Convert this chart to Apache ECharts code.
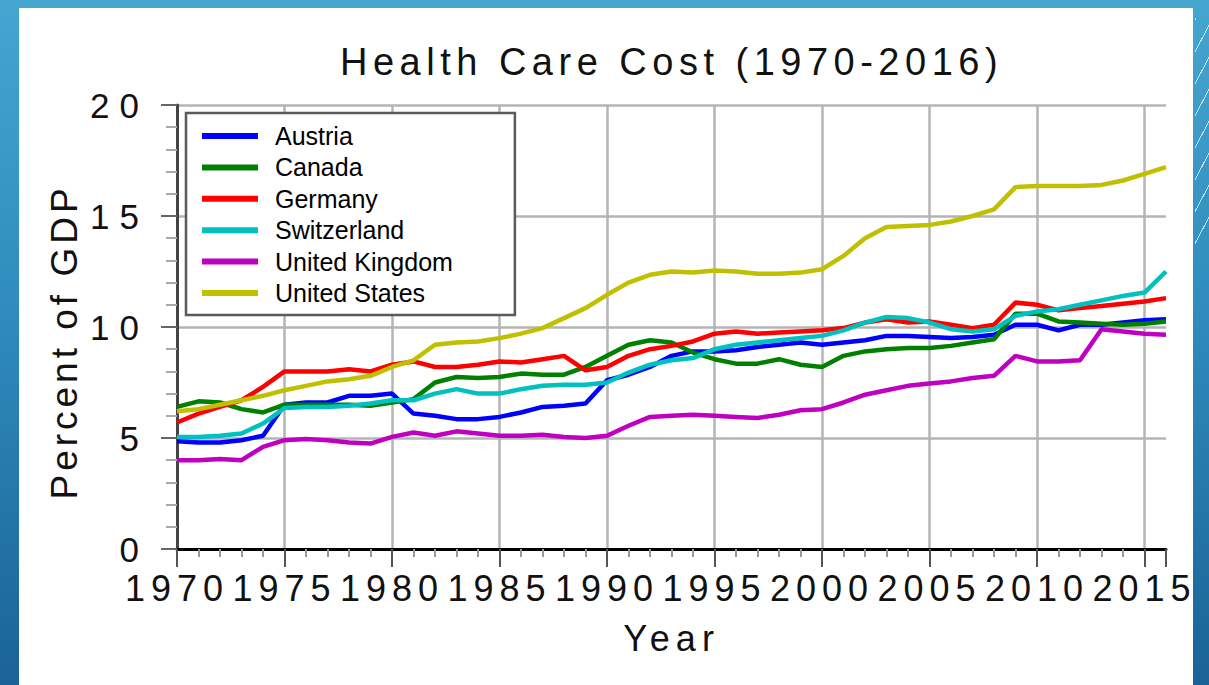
<!DOCTYPE html>
<html>
<head>
<meta charset="utf-8">
<title>Health Care Cost (1970-2016)</title>
<script src="https://cdn.jsdelivr.net/npm/echarts@6/dist/echarts.min.js"></script>
<style>
  html, body { margin: 0; padding: 0; }
  body {
    width: 1209px; height: 685px; overflow: hidden; position: relative;
    background: linear-gradient(180deg, #45a6cf 0%, #2f8cbd 45%, #1a6396 100%);
  }
  #panel { position: absolute; left: 19px; top: 8px; width: 1174px; height: 677px; background: #fff; }
  #deco {
    position: absolute; left: 1195px; top: 18px; width: 14px; height: 230px;
    background: repeating-linear-gradient(-62deg, transparent 0, transparent 14px,
      rgba(255,255,255,0.7) 14px, rgba(255,255,255,0.7) 15px);
  }
  #chart { position: absolute; left: 0; top: 0; width: 1209px; height: 685px; }
  /* the source picture has wide letter spacing on every label */
  #chart text[style*="38px"] { letter-spacing: 5.5px; }
  #chart text[style*="37px"] { letter-spacing: 4px; }
  #chart text[style*="36px"] { letter-spacing: 6px; }
  #chart text[style*="35px"] { letter-spacing: 10px; }
</style>
</head>
<body>
<div id="panel"></div>
<div id="deco"></div>
<div id="chart"></div>
<script>
// health expenditure, percent of GDP
var years = [1970, 1971, 1972, 1973, 1974, 1975, 1976, 1977, 1978, 1979,
  1980, 1981, 1982, 1983, 1984, 1985, 1986, 1987, 1988, 1989,
  1990, 1991, 1992, 1993, 1994, 1995, 1996, 1997, 1998, 1999,
  2000, 2001, 2002, 2003, 2004, 2005, 2006, 2007, 2008, 2009,
  2010, 2011, 2012, 2013, 2014, 2015, 2016];

var austria = [4.85, 4.8, 4.8, 4.9, 5.1, 6.5, 6.6, 6.6, 6.9, 6.9,
  7.0, 6.1, 6.0, 5.85, 5.85, 5.95, 6.15, 6.4, 6.45, 6.55,
  7.6, 7.85, 8.2, 8.7, 8.9, 8.9, 8.95, 9.1, 9.2, 9.3,
  9.2, 9.3, 9.4, 9.6, 9.6, 9.55, 9.5, 9.55, 9.65, 10.1,
  10.1, 9.85, 10.1, 10.1, 10.2, 10.3, 10.35];

var canada = [6.4, 6.65, 6.6, 6.3, 6.15, 6.5, 6.5, 6.5, 6.5, 6.45,
  6.6, 6.75, 7.5, 7.75, 7.7, 7.75, 7.9, 7.85, 7.85, 8.2,
  8.7, 9.2, 9.4, 9.3, 8.85, 8.55, 8.35, 8.35, 8.55, 8.3,
  8.2, 8.7, 8.9, 9.0, 9.05, 9.05, 9.15, 9.3, 9.45, 10.6,
  10.6, 10.25, 10.2, 10.15, 10.1, 10.15, 10.25];

var germany = [5.7, 6.1, 6.4, 6.7, 7.3, 8.0, 8.0, 8.0, 8.1, 8.0,
  8.3, 8.45, 8.2, 8.2, 8.3, 8.45, 8.4, 8.55, 8.7, 8.05,
  8.2, 8.7, 9.0, 9.15, 9.35, 9.7, 9.8, 9.7, 9.75, 9.8,
  9.85, 9.95, 10.2, 10.35, 10.2, 10.25, 10.1, 9.95, 10.1, 11.1,
  11.0, 10.75, 10.85, 10.95, 11.05, 11.15, 11.3];

var switzerland = [5.05, 5.05, 5.1, 5.2, 5.65, 6.35, 6.4, 6.4, 6.45, 6.55,
  6.7, 6.7, 7.0, 7.2, 7.0, 7.0, 7.2, 7.35, 7.4, 7.4,
  7.5, 7.95, 8.3, 8.5, 8.6, 9.0, 9.2, 9.3, 9.4, 9.5,
  9.6, 9.85, 10.2, 10.45, 10.4, 10.2, 9.9, 9.8, 9.9, 10.5,
  10.7, 10.8, 11.0, 11.2, 11.4, 11.55, 12.5];

var uk = [4.0, 4.0, 4.05, 4.0, 4.6, 4.9, 4.95, 4.9, 4.8, 4.75,
  5.05, 5.25, 5.1, 5.3, 5.2, 5.1, 5.1, 5.15, 5.05, 5.0,
  5.1, 5.55, 5.95, 6.0, 6.05, 6.0, 5.95, 5.9, 6.05, 6.25,
  6.3, 6.6, 6.95, 7.15, 7.35, 7.45, 7.55, 7.7, 7.8, 8.7,
  8.45, 8.45, 8.5, 9.9, 9.8, 9.7, 9.65];

var us = [6.2, 6.3, 6.5, 6.7, 6.9, 7.15, 7.35, 7.55, 7.65, 7.8,
  8.2, 8.5, 9.2, 9.3, 9.35, 9.5, 9.7, 9.95, 10.4, 10.85,
  11.45, 12.0, 12.35, 12.5, 12.45, 12.55, 12.5, 12.4, 12.4, 12.45,
  12.6, 13.2, 14.0, 14.5, 14.55, 14.6, 14.75, 15.0, 15.3, 16.3,
  16.35, 16.35, 16.35, 16.4, 16.6, 16.9, 17.2];

var countries = ['Austria', 'Canada', 'Germany', 'Switzerland', 'United Kingdom', 'United States'];
var colorList = ['#0000ff', '#008000', '#ff0000', '#00c0c0', '#c000c0', '#c0c000'];
var values = [austria, canada, germany, switzerland, uk, us];

var font = 'Liberation Sans, Arial, sans-serif';

var chart = echarts.init(document.getElementById('chart'), null, { renderer: 'svg' });

var seriesArr = [];
countries.forEach(function (name, i) {
  seriesArr.push({
    name: name,
    type: 'line',
    showSymbol: false,
    data: years.map(function (y, k) { return [y, values[i][k]]; }),
    lineStyle: { color: colorList[i], width: 4.5 },
    itemStyle: { color: colorList[i] },
    emphasis: { disabled: true }
  });
});

var option = {
  animation: false,
  backgroundColor: 'transparent',
  title: {
    text: 'Health Care Cost (1970-2016)',
    left: 340,
    top: 43,
    padding: 0,
    textStyle: { fontFamily: font, fontSize: 38, fontWeight: 'normal', color: '#111' }
  },
  legend: {
    orient: 'vertical',
    left: 186,
    top: 113,
    padding: [10.5, 62, 9.5, 16],
    itemGap: 6.4,
    itemWidth: 56,
    itemHeight: 6,
    icon: 'rect',
    backgroundColor: '#fff',
    borderColor: '#5a5a5a',
    borderWidth: 2.5,
    borderRadius: 0,
    textStyle: { fontFamily: font, fontSize: 25, color: '#000', padding: [0, 0, 0, 12] },
    data: countries
  },
  grid: { left: 177, right: 43, top: 105, bottom: 136 },
  xAxis: {
    type: 'value',
    min: 1970,
    max: 2016,
    interval: 5,
    name: 'Year',
    nameLocation: 'middle',
    nameGap: 71,
    nameTextStyle: { fontFamily: font, fontSize: 36, color: '#111' },
    axisLine: { show: true, lineStyle: { color: '#000', width: 3 } },
    axisTick: { show: true, inside: false, length: 18, lineStyle: { color: '#555', width: 2 } },
    minorTick: { show: true, splitNumber: 5, length: 8, lineStyle: { color: '#999', width: 2 } },
    axisLabel: {
      showMaxLabel: false,
      margin: 21,
      fontFamily: font,
      fontSize: 36,
      color: '#111',
      formatter: function (v) { return String(v); }
    },
    splitLine: { show: true, showMaxLine: false, lineStyle: { color: '#b4b4b4', width: 2.5 } }
  },
  yAxis: {
    type: 'value',
    min: 0,
    max: 20,
    interval: 5,
    name: 'Percent of GDP',
    nameLocation: 'middle',
    nameGap: 94,
    nameTextStyle: { fontFamily: font, fontSize: 37, color: '#111', padding: [0, 30, 0, 0] },
    axisLine: { show: true, lineStyle: { color: '#444', width: 3 } },
    axisTick: { show: true, inside: false, length: 16, lineStyle: { color: '#666', width: 2 } },
    minorTick: { show: true, splitNumber: 5, length: 11, lineStyle: { color: '#aaa', width: 2 } },
    axisLabel: { margin: 28, fontFamily: font, fontSize: 35, color: '#111' },
    splitLine: { show: true, showMinLine: false, lineStyle: { color: '#b4b4b4', width: 2.5 } }
  },
  series: seriesArr
};

chart.setOption(option);
</script>
</body>
</html>
